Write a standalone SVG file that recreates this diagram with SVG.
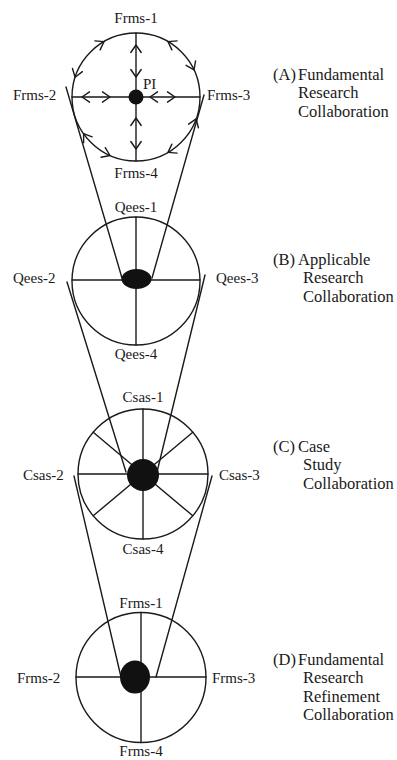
<svg xmlns="http://www.w3.org/2000/svg" xmlns:xlink="http://www.w3.org/1999/xlink" width="397" height="760" viewBox="0 0 397 760">
  <style>
    .ln { fill: none; stroke: #1a1a1a; stroke-width: 1.4; stroke-linecap: round; stroke-linejoin: round; }
    .hub { fill: #111; stroke: none; }
    .lbl { font-family: "Liberation Serif", "Times New Roman", serif; font-size: 15px; fill: #1a1a1a; }
    .cap { font-family: "Liberation Serif", "Times New Roman", serif; font-size: 16.5px; fill: #1a1a1a; }
    .mid { text-anchor: middle; }
  </style>
  <defs>
    <!-- open arrowhead pointing along +x, apex at origin -->
    <path id="ah" class="ln" d="M-7.5,-5.2 L0,0 L-7.5,5.2"/>
  </defs>
  <rect width="397" height="760" fill="#fff"/>

  <!-- connectors between the stages -->
  <g id="connectors">
    <line class="ln" x1="66" y1="87" x2="122" y2="278"/>
    <line class="ln" x1="204" y1="95" x2="152" y2="278"/>
    <line class="ln" x1="67" y1="282" x2="126" y2="472"/>
    <line class="ln" x1="205" y1="275" x2="157" y2="472"/>
    <line class="ln" x1="74" y1="476" x2="121" y2="677"/>
    <line class="ln" x1="212" y1="476" x2="156" y2="677"/>
  </g>

  <!-- (A) Fundamental research collaboration -->
  <g id="node-a">
    <circle class="ln" cx="136" cy="97" r="64"/>
    <line class="ln" x1="136" y1="33" x2="136" y2="161"/>
    <line class="ln" x1="72" y1="97" x2="200" y2="97"/>
    <circle class="hub" cx="136" cy="97" r="7.5"/>
    <!-- arrowheads on the rim -->
    <use xlink:href="#ah" transform="translate(104,41.6) rotate(330)"/>
    <use xlink:href="#ah" transform="translate(75.1,77.2) rotate(108)"/>
    <use xlink:href="#ah" transform="translate(168,41.6) rotate(210)"/>
    <use xlink:href="#ah" transform="translate(194,69.9) rotate(65)"/>
    <use xlink:href="#ah" transform="translate(196.1,118.9) rotate(-70)"/>
    <use xlink:href="#ah" transform="translate(168,152.4) rotate(150)"/>
    <use xlink:href="#ah" transform="translate(83.6,133.7) rotate(235)"/>
    <use xlink:href="#ah" transform="translate(110,155.5) rotate(24)"/>
    <!-- arrowheads on the spokes -->
    <use xlink:href="#ah" transform="translate(82,97) rotate(180)"/>
    <use xlink:href="#ah" transform="translate(110,97)"/>
    <use xlink:href="#ah" transform="translate(150,97) rotate(180)"/>
    <use xlink:href="#ah" transform="translate(175,97)"/>
    <use xlink:href="#ah" transform="translate(136,45) rotate(270)"/>
    <use xlink:href="#ah" transform="translate(136,77) rotate(90)"/>
    <use xlink:href="#ah" transform="translate(136,118) rotate(270)"/>
    <use xlink:href="#ah" transform="translate(136,149) rotate(90)"/>
    <text class="lbl" x="143" y="89">PI</text>
    <text class="lbl mid" x="136" y="23">Frms-1</text>
    <text class="lbl" x="13" y="100">Frms-2</text>
    <text class="lbl" x="207" y="100">Frms-3</text>
    <text class="lbl mid" x="136" y="178">Frms-4</text>
    <text class="cap" x="273" y="80">(A)</text>
    <text class="cap" x="298" y="80">Fundamental</text>
    <text class="cap" x="298" y="98.3">Research</text>
    <text class="cap" x="298" y="116.6">Collaboration</text>
  </g>

  <!-- (B) Applicable research collaboration -->
  <g id="node-b">
    <circle class="ln" cx="136" cy="281" r="64"/>
    <line class="ln" x1="136" y1="217" x2="136" y2="345"/>
    <line class="ln" x1="72" y1="280" x2="200" y2="280"/>
    <ellipse class="hub" cx="136.5" cy="279" rx="15" ry="10"/>
    <text class="lbl mid" x="136" y="212">Qees-1</text>
    <text class="lbl" x="13" y="283">Qees-2</text>
    <text class="lbl" x="216" y="283">Qees-3</text>
    <text class="lbl mid" x="136" y="359">Qees-4</text>
    <text class="cap" x="273" y="265">(B)</text>
    <text class="cap" x="298" y="265">Applicable</text>
    <text class="cap" x="303" y="283.3">Research</text>
    <text class="cap" x="303" y="301.6">Collaboration</text>
  </g>

  <!-- (C) Case study collaboration -->
  <g id="node-c">
    <circle class="ln" cx="143" cy="474" r="65"/>
    <line class="ln" x1="143" y1="409" x2="143" y2="539"/>
    <line class="ln" x1="78" y1="474" x2="208" y2="474"/>
    <line class="ln" x1="93.2" y1="432.2" x2="192.8" y2="515.8"/>
    <line class="ln" x1="192.8" y1="432.2" x2="93.2" y2="515.8"/>
    <circle class="hub" cx="143" cy="475" r="16"/>
    <text class="lbl mid" x="143" y="402">Csas-1</text>
    <text class="lbl" x="23" y="480">Csas-2</text>
    <text class="lbl" x="219" y="480">Csas-3</text>
    <text class="lbl mid" x="143" y="554">Csas-4</text>
    <text class="cap" x="273" y="452">(C)</text>
    <text class="cap" x="298" y="452">Case</text>
    <text class="cap" x="303" y="470.3">Study</text>
    <text class="cap" x="303" y="488.6">Collaboration</text>
  </g>

  <!-- (D) Fundamental research refinement collaboration -->
  <g id="node-d">
    <circle class="ln" cx="141" cy="677.5" r="65"/>
    <line class="ln" x1="141" y1="612.5" x2="141" y2="742.5"/>
    <line class="ln" x1="76" y1="677" x2="206" y2="677"/>
    <ellipse class="hub" cx="135" cy="677" rx="15" ry="16.5"/>
    <text class="lbl mid" x="141" y="608">Frms-1</text>
    <text class="lbl" x="17" y="683">Frms-2</text>
    <text class="lbl" x="212" y="683">Frms-3</text>
    <text class="lbl mid" x="141" y="756">Frms-4</text>
    <text class="cap" x="273" y="665">(D)</text>
    <text class="cap" x="298" y="665">Fundamental</text>
    <text class="cap" x="303" y="683.3">Research</text>
    <text class="cap" x="303" y="701.6">Refinement</text>
    <text class="cap" x="303" y="719.9">Collaboration</text>
  </g>
</svg>
